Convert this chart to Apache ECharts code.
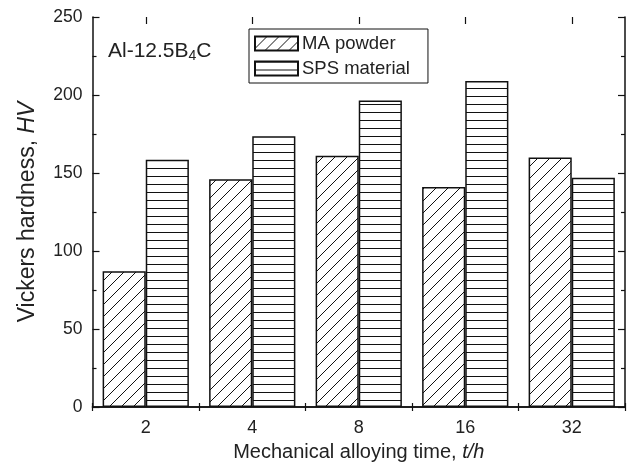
<!DOCTYPE html>
<html>
<head>
<meta charset="utf-8">
<script src="https://cdn.jsdelivr.net/npm/echarts@6/dist/echarts.min.js"></script>
<style>
  * { margin: 0; padding: 0; }
  body { background: #fff; }
  #main { width: 632px; height: 468px; }
</style>
</head>
<body>
<div id="main"></div>
<script>
// data
var times = ['2', '4', '8', '16', '32'];
var maPowder = [87, 146, 161, 141, 160];
var spsMaterial = [158.5, 173.5, 196.5, 209, 147];
var yTicks = [0, 50, 100, 150, 200, 250];

var font = 'Liberation Sans, Arial, Helvetica, sans-serif';

// hatch fills
function diagPattern() {
  var s = 12;
  var c = document.createElement('canvas');
  c.width = s; c.height = s;
  var g = c.getContext('2d');
  g.fillStyle = '#fff';
  g.fillRect(0, 0, s, s);
  g.strokeStyle = '#111';
  g.lineWidth = 1;
  g.beginPath();
  g.moveTo(-1, s + 1); g.lineTo(s + 1, -1);
  g.moveTo(-1, 1); g.lineTo(1, -1);
  g.moveTo(s - 1, s + 1); g.lineTo(s + 1, s - 1);
  g.stroke();
  return c;
}
function horizPattern() {
  var s = 8;
  var c = document.createElement('canvas');
  c.width = s; c.height = s;
  var g = c.getContext('2d');
  g.fillStyle = '#fff';
  g.fillRect(0, 0, s, s);
  g.fillStyle = '#111';
  g.fillRect(0, 0, s, 1);
  return c;
}

var chart = echarts.init(document.getElementById('main'));

var axisLine = { show: true, lineStyle: { color: '#111', width: 1.5 } };

chart.setOption({
  backgroundColor: '#fff',
  animation: false,
  grid: { left: 92.5, right: 7, top: 17, bottom: 61 },
  title: {
    text: '{a|Al-12.5B}{s|4}{a|C}',
    left: 103, top: 34,
    textStyle: {
      fontWeight: 'normal',
      rich: {
        a: { fontFamily: font, fontSize: 21, fontWeight: 'normal', color: '#222' },
        s: { fontFamily: font, fontSize: 14, fontWeight: 'normal', color: '#222', verticalAlign: 'bottom', padding: [10, 0, 0, 0] }
      }
    }
  },
  legend: {
    orient: 'vertical',
    left: 249, top: 29,
    padding: [5, 18, 5, 5],
    itemGap: 6,
    itemWidth: 43, itemHeight: 14,
    borderColor: '#111', borderWidth: 1,
    icon: 'rect',
    textStyle: { fontFamily: font, fontSize: 18.5, color: '#222', padding: [0, 0, 0, -1] },
    data: ['MA powder', 'SPS material']
  },
  xAxis: [{
    type: 'category',
    data: times,
    position: 'bottom',
    axisLine: axisLine,
    axisTick: { show: true, inside: true, length: 4, lineStyle: { color: '#111', width: 1.2 } },
    axisLabel: { fontFamily: font, fontSize: 18, color: '#222', margin: 12 },
    name: '{a|Mechanical alloying time, }{i|t/h}',
    nameLocation: 'middle',
    nameGap: 35,
    nameTextStyle: {
      rich: {
        a: { fontFamily: font, fontSize: 20, color: '#222' },
        i: { fontFamily: font, fontSize: 20, color: '#222', fontStyle: 'italic' }
      }
    }
  }, {
    type: 'category',
    data: times,
    position: 'top',
    axisLine: axisLine,
    axisTick: { show: true, inside: true, length: 4, lineStyle: { color: '#111', width: 1.2 } },
    axisLabel: { show: false }
  }, {
    type: 'category',
    data: times,
    position: 'top',
    axisLine: { show: false },
    axisTick: { show: true, inside: true, alignWithLabel: true, length: 7, lineStyle: { color: '#111', width: 1.2 } },
    axisLabel: { show: false }
  }],
  yAxis: [{
    type: 'value',
    min: yTicks[0], max: yTicks[yTicks.length - 1], interval: 50,
    axisLine: axisLine,
    axisTick: { show: true, inside: true, length: 7, lineStyle: { color: '#111', width: 1.2 } },
    minorTick: { show: true, splitNumber: 2, length: 4, lineStyle: { color: '#111', width: 1.2 } },
    splitLine: { show: false },
    axisLabel: { fontFamily: font, fontSize: 17.5, color: '#222', margin: 10 },
    name: '{a|Vickers hardness, }{i|HV}',
    nameLocation: 'middle',
    nameGap: 53,
    nameTextStyle: {
      rich: {
        a: { fontFamily: font, fontSize: 23, color: '#222' },
        i: { fontFamily: font, fontSize: 23, color: '#222', fontStyle: 'italic' }
      }
    }
  }, {
    type: 'value',
    position: 'right',
    min: yTicks[0], max: yTicks[yTicks.length - 1], interval: 50,
    axisLine: axisLine,
    axisTick: { show: true, inside: true, length: 7, lineStyle: { color: '#111', width: 1.2 } },
    minorTick: { show: true, splitNumber: 2, length: 4, lineStyle: { color: '#111', width: 1.2 } },
    splitLine: { show: false },
    axisLabel: { show: false }
  }],
  series: [{
    name: 'MA powder',
    type: 'bar',
    data: maPowder,
    barGap: '0%',
    barCategoryGap: '19%',
    itemStyle: { color: { image: diagPattern(), repeat: 'repeat' }, borderColor: '#111', borderWidth: 1.5 }
  }, {
    name: 'SPS material',
    type: 'bar',
    data: spsMaterial,
    barGap: '0%',
    barCategoryGap: '19%',
    itemStyle: { color: { image: horizPattern(), repeat: 'repeat' }, borderColor: '#111', borderWidth: 1.5 }
  }]
});
</script>
</body>
</html>
